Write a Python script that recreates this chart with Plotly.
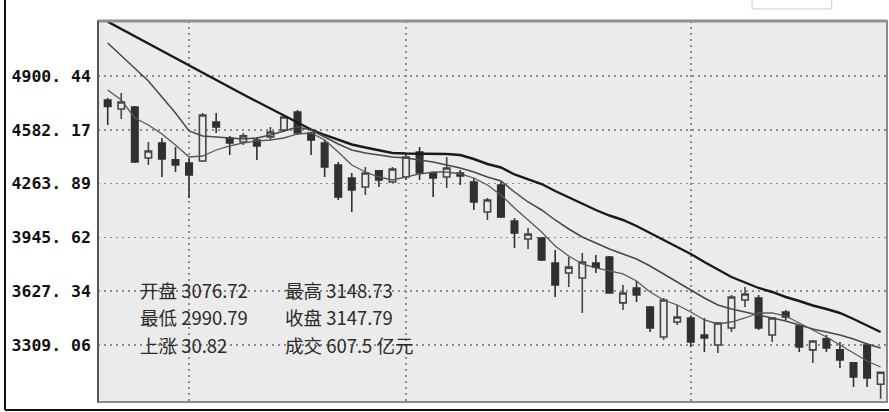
import plotly.graph_objects as go

# ---- data ----
idx = list(range(58))
opens = [4758, 4705, 4717, 4415, 4504, 4404, 4386, 4398, 4628, 4534,
         4510, 4522, 4540, 4581, 4687, 4563, 4504, 4374, 4297, 4244,
         4339, 4273, 4303, 4451, 4327, 4303, 4327, 4273, 4096, 4256,
         4043, 3936, 3942, 3794, 3735, 3705, 3794, 3830, 3558, 3646,
         3534, 3356, 3445, 3469, 3368, 3309, 3410, 3575, 3587, 3368,
         3504, 3421, 3280, 3345, 3280, 3203, 3309, 3076.72]
highs = [4770, 4800, 4723, 4510, 4534, 4480, 4415, 4682, 4682, 4546,
         4563, 4540, 4599, 4670, 4700, 4570, 4522, 4392, 4327, 4362,
         4344, 4362, 4433, 4480, 4333, 4421, 4344, 4297, 4179, 4273,
         4060, 4001, 3948, 3871, 3830, 3853, 3841, 3835, 3664, 3688,
         3540, 3587, 3546, 3481, 3469, 3445, 3605, 3652, 3605, 3475,
         3516, 3427, 3339, 3368, 3327, 3209, 3321, 3148.73]
lows = [4611, 4646, 4386, 4374, 4303, 4333, 4179, 4392, 4563, 4433,
        4492, 4404, 4522, 4569, 4551, 4433, 4303, 4167, 4096, 4197,
        4244, 4268, 4285, 4285, 4185, 4238, 4256, 4108, 4049, 4060,
        3883, 3877, 3806, 3593, 3652, 3498, 3735, 3612, 3516, 3563,
        3386, 3339, 3427, 3297, 3268, 3262, 3386, 3534, 3398, 3327,
        3457, 3268, 3203, 3268, 3173, 3061, 3061, 2990.79]
closes = [4720, 4747, 4392, 4457, 4409, 4374, 4315, 4670, 4599, 4504,
          4546, 4486, 4569, 4658, 4563, 4522, 4362, 4185, 4226, 4327,
          4285, 4350, 4421, 4327, 4297, 4356, 4309, 4155, 4167, 4066,
          3972, 3966, 3812, 3664, 3770, 3800, 3770, 3617, 3617, 3605,
          3410, 3575, 3475, 3327, 3351, 3439, 3593, 3611, 3410, 3469,
          3475, 3297, 3333, 3291, 3220, 3120, 3114, 3147.79]

ma_long = [5221.7, 5178.5, 5137.1, 5092.7, 5048.3, 5004.0, 4962.6, 4918.2, 4873.8, 4832.4,
           4791.0, 4749.6, 4708.2, 4666.8, 4625.3, 4583.9, 4551.4, 4521.8, 4495.2, 4477.4,
           4459.7, 4444.9, 4441.9, 4441.9, 4439.0, 4439.0, 4433.1, 4409.4, 4379.8, 4359.1,
           4317.7, 4288.1, 4261.5, 4220.1, 4181.6, 4143.1, 4107.7, 4075.1, 4048.6, 4013.1,
           3971.7, 3930.3, 3885.9, 3847.4, 3800.1, 3755.7, 3711.3, 3678.8, 3646.3, 3622.6,
           3593.0, 3569.4, 3542.8, 3522.1, 3498.4, 3462.9, 3424.5, 3385.9]
ma_mid = [5095.7, 5018.8, 4947.8, 4870.9, 4776.2, 4681.6, 4575.1, 4545.5, 4539.6, 4533.7,
          4527.8, 4533.7, 4551.4, 4575.1, 4598.8, 4581.0, 4539.6, 4498.2, 4462.7, 4444.9,
          4433.1, 4421.3, 4415.4, 4403.5, 4391.7, 4373.9, 4356.2, 4332.5, 4302.9, 4279.3,
          4214.2, 4155.1, 4107.7, 4048.6, 3995.3, 3948.0, 3912.5, 3877.0, 3847.4, 3817.9,
          3776.4, 3729.1, 3681.8, 3634.5, 3587.1, 3545.7, 3522.1, 3504.3, 3486.6, 3468.8,
          3451.1, 3427.4, 3403.7, 3386.0, 3368.2, 3344.6, 3315.0, 3291.3]
ma_short = [4817.6, 4758.5, 4652.0, 4610.6, 4557.3, 4492.2, 4421.3, 4427.2, 4462.7, 4486.3,
            4504.1, 4515.9, 4521.8, 4533.7, 4557.3, 4563.3, 4521.8, 4450.9, 4373.9, 4332.5,
            4302.9, 4285.2, 4302.9, 4320.7, 4332.5, 4332.5, 4320.7, 4297.0, 4255.6, 4196.5,
            4119.6, 4048.6, 3977.6, 3894.8, 3835.6, 3788.3, 3764.6, 3746.9, 3729.1, 3687.7,
            3622.6, 3575.3, 3545.7, 3504.3, 3457.0, 3433.3, 3445.1, 3468.8, 3498.4, 3498.4,
            3480.6, 3439.2, 3397.8, 3356.4, 3309.1, 3261.8, 3214.4, 3178.9]

y_ticks = [4900.44, 4582.17, 4263.89, 3945.62, 3627.34, 3309.06]
y_tick_labels = ["4900. 44", "4582. 17", "4263. 89", "3945. 62", "3627. 34", "3309. 06"]
x_grid = [6, 22, 43]

info_left = ["开盘 3076.72", "最低 2990.79", "上涨 30.82"]
info_right = ["最高 3148.73", "收盘 3147.79", "成交 607.5 亿元"]

BG = "#ebebeb"

fig = go.Figure()
fig.add_trace(go.Scatter(x=idx, y=ma_long, mode="lines",
                         line=dict(color="#1a1a1a", width=2.4), hoverinfo="skip"))
fig.add_trace(go.Scatter(x=idx, y=ma_mid, mode="lines",
                         line=dict(color="#474747", width=1.5), hoverinfo="skip"))
fig.add_trace(go.Scatter(x=idx, y=ma_short, mode="lines",
                         line=dict(color="#585858", width=1.3), hoverinfo="skip"))
fig.add_trace(go.Candlestick(
    x=idx, open=opens, high=highs, low=lows, close=closes,
    increasing=dict(fillcolor=BG, line=dict(color="#444444", width=1.6)),
    decreasing=dict(fillcolor="#303030", line=dict(color="#303030", width=1.6)),
    whiskerwidth=0,
))

rows_y = [0.2927, 0.2218, 0.1509]
for t_list, xx in ((info_left, 0.0507), (info_right, 0.2345)):
    for t, yy in zip(t_list, rows_y):
        fig.add_annotation(x=xx, y=yy, xref="paper", yref="paper", text=t,
                           showarrow=False, xanchor="left", yanchor="middle",
                           font=dict(family="Noto Sans CJK SC", size=18.5, color="#2a2a2a"))

# frame of the plot area
fig.add_shape(type="rect", xref="paper", yref="paper", x0=0, x1=1, y0=0, y1=1,
              line=dict(color="#8a8a8a", width=2))
fig.add_shape(type="line", xref="paper", yref="paper", x0=0, x1=1, y0=1.0, y1=1.0,
              line=dict(color="#909090", width=3))
fig.add_shape(type="line", xref="paper", yref="paper", x0=0, x1=0, y0=0, y1=1,
              line=dict(color="#555555", width=2))
# outer border of the picture
fig.add_shape(type="line", xref="paper", yref="paper", x0=-0.1179, x1=-0.1179, y0=-0.021, y1=1.06,
              line=dict(color="#111111", width=2))
fig.add_shape(type="line", xref="paper", yref="paper", x0=-0.1179, x1=1.01, y0=-0.021, y1=-0.021,
              line=dict(color="#111111", width=2))
# small box at the top right
fig.add_shape(type="rect", xref="paper", yref="paper", x0=0.829, x1=0.930, y0=1.0315, y1=1.07,
              line=dict(color="#cccccc", width=1), fillcolor="white")

fig.update_layout(
    width=889, height=412,
    margin=dict(l=98, r=2, t=21, b=10, autoexpand=False),
    paper_bgcolor="white", plot_bgcolor=BG,
    showlegend=False, boxgap=0.32,
    xaxis=dict(range=[-0.715, 57.47], tickvals=x_grid, showticklabels=False,
               showgrid=True, gridcolor="#8c8c8c", gridwidth=1.5, griddash="2px,4px",
               zeroline=False, rangeslider=dict(visible=False), ticks="", fixedrange=True,
               automargin=False),
    yaxis=dict(range=[2971.8, 5225.8], tickvals=y_ticks, ticktext=y_tick_labels,
               showgrid=True, gridcolor="#8c8c8c", gridwidth=1.5, griddash="2px,4px",
               zeroline=False, ticks="", ticklabelstandoff=6, automargin=False,
               fixedrange=True,
               tickfont=dict(family="DejaVu Sans Mono", size=16.5, color="#111111",
                             weight="bold")),
)

fig.write_html("out.html", config={"displayModeBar": False, "staticPlot": True},
               post_script="document.body.style.margin='0';document.body.style.overflow='hidden';")
